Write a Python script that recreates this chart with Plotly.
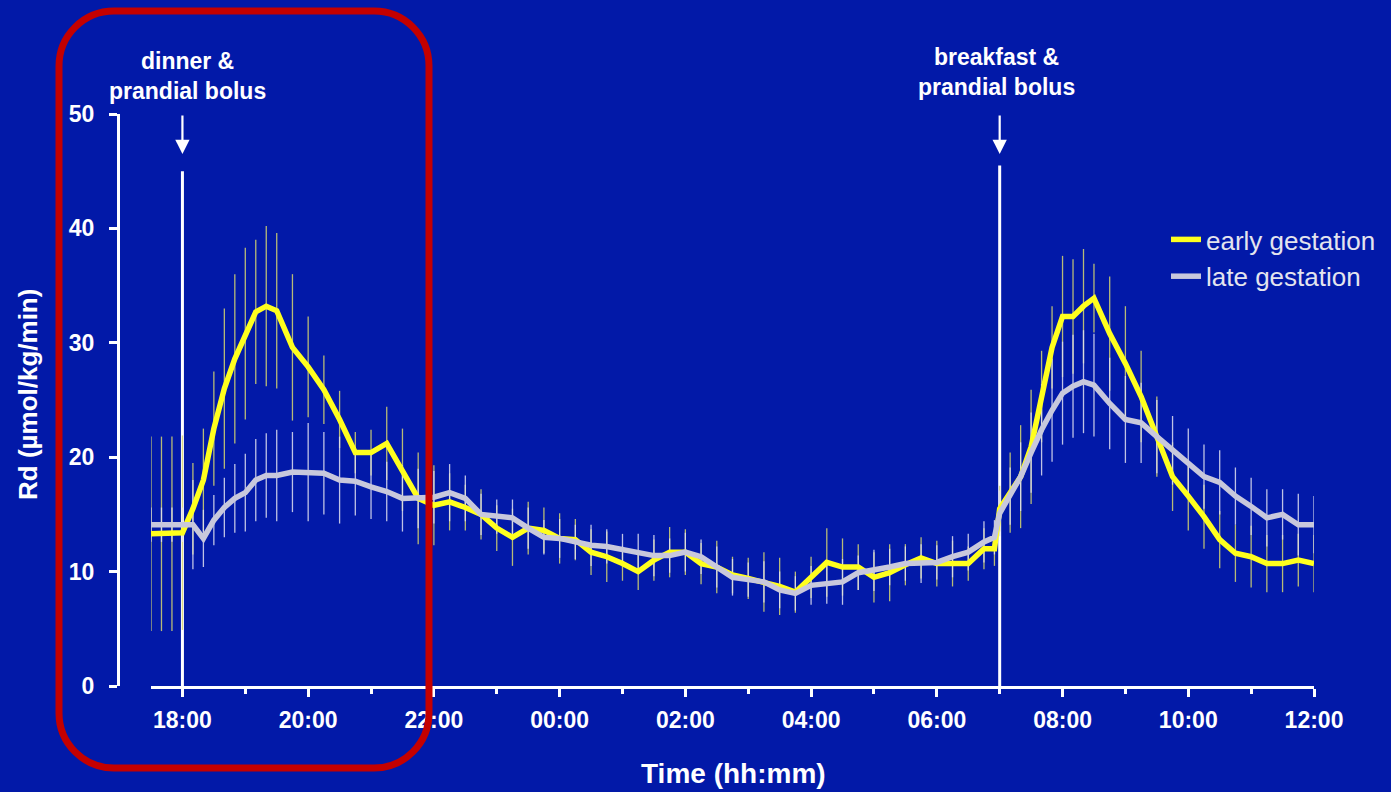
import plotly.graph_objects as go

# ---------------- data ----------------
times = [
    "17:30", "17:40", "17:50", "18:00",
    "18:10", "18:20", "18:30", "18:40", "18:50", "19:00", "19:10", "19:20", "19:30",
    "19:45", "20:00", "20:15", "20:30", "20:45", "21:00", "21:15", "21:30", "21:45",
    "22:00", "22:15", "22:30", "22:45", "23:00", "23:15", "23:30", "23:45",
    "00:00", "00:15", "00:30", "00:45", "01:00", "01:15", "01:30", "01:45",
    "02:00", "02:15", "02:30", "02:45", "03:00", "03:15", "03:30", "03:45",
    "04:00", "04:15", "04:30", "04:45", "05:00", "05:15", "05:30", "05:45",
    "06:00", "06:15", "06:30", "06:45",
    "06:55", "07:00",
    "07:10", "07:20", "07:30", "07:40", "07:50", "08:00", "08:10", "08:20", "08:30",
    "08:45", "09:00", "09:15", "09:30", "09:45", "10:00", "10:15", "10:30", "10:45",
    "11:00", "11:15", "11:30", "11:45", "12:00",
]

early_gestation = [
    13.3, 13.3, 13.3, 13.4,
    15.5, 18.0, 22.5, 26.0, 28.6, 30.8, 32.7, 33.2, 32.8,
    29.6, 27.9, 25.9, 23.3, 20.4, 20.4, 21.2, 18.9, 16.4,
    15.8, 16.1, 15.6, 15.0, 13.8, 13.0, 13.8, 13.6,
    12.9, 12.8, 11.7, 11.3, 10.7, 10.0, 11.0, 11.7,
    11.7, 10.7, 10.4, 9.7, 9.4, 9.1, 8.7, 8.2,
    9.5, 10.8, 10.4, 10.4, 9.5, 9.9, 10.6, 11.2,
    10.7, 10.7, 10.7, 12.0,
    12.0, 15.5,
    16.9, 18.3, 20.9, 25.3, 29.6, 32.3, 32.3, 33.2, 33.9,
    30.8, 28.2, 25.3, 21.8, 18.3, 16.6, 14.8, 12.8, 11.6,
    11.3, 10.7, 10.7, 11.0, 10.7,
]

early_sd = [
    8.5, 8.5, 8.5, 8.5,
    4.0, 4.5, 5.0, 7.0, 7.4, 7.5, 6.3, 7.0, 6.8,
    6.4, 4.4, 3.0, 2.5, 1.8, 2.0, 3.2, 3.6, 4.0,
    3.5, 2.5, 2.0, 2.2, 2.0, 2.5, 2.3, 2.0,
    2.2, 1.8, 2.0, 2.2, 1.5, 1.6, 1.8, 2.2,
    2.0, 1.8, 2.3, 1.6, 1.8, 2.6, 2.5, 1.8,
    1.8, 3.0, 2.5, 2.0, 2.2, 2.5, 1.8, 1.8,
    2.0, 2.0, 1.5, 1.8,
    1.5, 2.0,
    3.5, 4.5, 5.0, 4.0, 3.6, 5.3, 5.0, 5.0, 3.0,
    5.0, 5.0, 4.0, 3.5, 3.0, 3.0, 2.8, 2.5, 2.5,
    2.7, 2.5, 2.5, 2.3, 2.5,
]

late_gestation = [
    14.1, 14.1, 14.1, 14.1,
    14.1, 12.9, 14.5, 15.6, 16.4, 16.9, 18.0, 18.4, 18.4,
    18.7, 18.7, 18.6, 18.0, 17.9, 17.4, 17.0, 16.4, 16.4,
    16.5, 16.9, 16.4, 15.0, 14.8, 14.7, 13.8, 13.0,
    12.9, 12.6, 12.3, 12.2, 11.9, 11.7, 11.4, 11.4,
    11.7, 11.3, 10.4, 9.5, 9.3, 9.1, 8.4, 8.1,
    8.8, 9.0, 9.1, 9.9, 10.1, 10.4, 10.7, 10.7,
    10.8, 11.3, 11.7, 12.6,
    13.0, 15.1,
    16.6, 18.3, 20.4, 22.4, 24.1, 25.6, 26.2, 26.6, 26.3,
    24.7, 23.3, 23.0, 21.8, 20.6, 19.5, 18.3, 17.8, 16.6,
    15.7, 14.7, 15.0, 14.1, 14.1,
]

late_sd = [
    1.5, 1.5, 1.5, 1.5,
    3.9, 2.5, 2.2, 2.6, 3.0, 3.4, 3.6, 3.7, 4.0,
    3.5, 4.3, 3.6, 3.8, 3.0, 2.8, 2.6, 2.9, 2.6,
    2.3, 2.5, 2.0, 1.8, 1.5, 1.6, 1.8, 1.5,
    1.7, 1.5, 1.8, 1.5, 1.4, 1.6, 1.8, 1.5,
    1.7, 1.5, 1.8, 1.6, 1.5, 1.8, 1.6, 1.5,
    1.7, 1.8, 2.0, 1.5, 1.8, 1.6, 1.5, 1.7,
    1.5, 1.8, 1.6, 1.8,
    1.5, 2.0,
    2.5, 3.0, 3.5, 4.0, 4.5, 4.5, 4.5, 4.5, 4.5,
    4.0, 3.8, 3.5, 3.2, 3.0, 3.0, 2.8, 2.8, 2.5,
    2.5, 2.5, 2.2, 2.7, 2.5,
]

tick_labels = ["18:00", "20:00", "22:00", "00:00", "02:00", "04:00",
               "06:00", "08:00", "10:00", "12:00"]
minor_tick_labels = ["19:00", "21:00", "23:00", "01:00", "03:00", "05:00",
                     "07:00", "09:00", "11:00"]
x_start, x_end = "17:30", "12:00"
y_ticks = [0, 10, 20, 30, 40, 50]

event_times = ["18:00", "07:00"]
event_labels = ["dinner &<br>prandial bolus", "breakfast &<br>prandial bolus"]
event_line_top = [45.0, 45.5]

series_names = ["early gestation", "late gestation"]


def to_hours(t):
    h, m = (int(p) for p in t.split(":"))
    v = h + m / 60.0
    if h < 17:
        v += 24.0
    return v


xs = [to_hours(t) for t in times]

# ---------------- style ----------------
BG = "#0219a8"
YELLOW = "#ffff1e"
GRAY = "#c8c8dc"
WHITE = "#ffffff"
FONT = "Liberation Sans, Arial, sans-serif"

W, H = 1391, 792
ML, MR, MT, MB = 118, 77, 114, 106
PW = W - ML - MR
PH = H - MT - MB


def px(xp):
    return (xp - ML) / PW


def py(yp):
    return (H - MB - yp) / PH


def rounded_rect_path(x0, y0, x1, y1, r):
    k = 0.5523 * r
    P = lambda x, y: f"{px(x):.5f},{py(y):.5f}"
    return (
        f"M{P(x0 + r, y0)} L{P(x1 - r, y0)} "
        f"C{P(x1 - r + k, y0)} {P(x1, y0 + r - k)} {P(x1, y0 + r)} "
        f"L{P(x1, y1 - r)} "
        f"C{P(x1, y1 - r + k)} {P(x1 - r + k, y1)} {P(x1 - r, y1)} "
        f"L{P(x0 + r, y1)} "
        f"C{P(x0 + r - k, y1)} {P(x0, y1 - r + k)} {P(x0, y1 - r)} "
        f"L{P(x0, y0 + r)} "
        f"C{P(x0, y0 + r - k)} {P(x0 + r - k, y0)} {P(x0 + r, y0)} Z"
    )


fig = go.Figure()

# error bars (drawn underneath the lines)
fig.add_trace(go.Scatter(
    x=xs, y=early_gestation, mode="markers",
    marker=dict(size=1, color="rgba(0,0,0,0)"),
    error_y=dict(type="data", array=early_sd, color="rgba(215,215,110,0.85)",
                 thickness=1.3, width=0),
    showlegend=False, hoverinfo="skip"))
fig.add_trace(go.Scatter(
    x=xs, y=late_gestation, mode="markers",
    marker=dict(size=1, color="rgba(0,0,0,0)"),
    error_y=dict(type="data", array=late_sd, color="rgba(225,225,240,0.85)",
                 thickness=1.3, width=0),
    showlegend=False, hoverinfo="skip"))

fig.add_trace(go.Scatter(
    x=xs, y=early_gestation, mode="lines", name=series_names[0],
    line=dict(color=YELLOW, width=5.5)))
fig.add_trace(go.Scatter(
    x=xs, y=late_gestation, mode="lines", name=series_names[1],
    line=dict(color=GRAY, width=5.5)))

shapes = []
annotations = []
for t, lab, top, shift, ty in zip(event_times, event_labels, event_line_top,
                                  [5, -3], [76, 72]):
    xv = to_hours(t)
    shapes.append(dict(type="line", xref="x", yref="y", x0=xv, x1=xv, y0=0, y1=top,
                       line=dict(color=WHITE, width=3), layer="below"))
    annotations.append(dict(x=xv, y=46.5, xref="x", yref="y", text="",
                            showarrow=True, ax=0, ay=-40, arrowhead=2,
                            arrowsize=1.3, arrowwidth=2.2, arrowcolor=WHITE,
                            standoff=0))
    annotations.append(dict(x=xv, y=py(ty), xref="x", yref="paper", text=lab,
                            showarrow=False, xshift=shift, yanchor="middle",
                            font=dict(family=FONT, size=23, color=WHITE, weight="bold")))

# red rounded frame
shapes.append(dict(type="path", xref="paper", yref="paper",
                   path=rounded_rect_path(59, 11, 429, 768, 55),
                   line=dict(color="#c40000", width=7), layer="above"))

# axis titles
annotations.append(dict(x=px(733), y=py(773), xref="paper", yref="paper",
                        text="Time (hh:mm)", showarrow=False, yanchor="middle",
                        font=dict(family=FONT, size=28, color=WHITE, weight="bold")))
annotations.append(dict(x=px(28), y=py(395), xref="paper", yref="paper",
                        text="Rd (µmol/kg/min)", showarrow=False, textangle=-90,
                        xanchor="center", yanchor="middle",
                        font=dict(family=FONT, size=26, color=WHITE, weight="bold")))

fig.update_layout(
    width=W, height=H,
    margin=dict(l=ML, r=MR, t=MT, b=MB, autoexpand=False),
    paper_bgcolor=BG, plot_bgcolor=BG,
    shapes=shapes, annotations=annotations,
    showlegend=True,
    legend=dict(x=px(1166), y=py(216), xanchor="left", yanchor="top",
                bgcolor="rgba(0,0,0,0)", borderwidth=0,
                font=dict(family=FONT, size=26, color="#e4e4ee"),
                tracegroupgap=0, itemwidth=30),
    xaxis=dict(
        domain=[px(151), 1], range=[to_hours(x_start), to_hours(x_end)],
        showgrid=False, zeroline=False,
        showline=True, linecolor=WHITE, linewidth=3,
        ticks="outside", tickcolor=WHITE, tickwidth=3, ticklen=8,
        tickvals=[to_hours(t) for t in tick_labels], ticktext=tick_labels,
        ticklabelstandoff=3,
        minor=dict(tickvals=[to_hours(t) for t in minor_tick_labels],
                   ticks="outside", ticklen=5, tickwidth=3, tickcolor=WHITE),
        tickfont=dict(family=FONT, size=23, color=WHITE, weight="bold"),
        fixedrange=True,
    ),
    yaxis=dict(
        anchor="free", position=0, range=[0, 50],
        showgrid=False, zeroline=False,
        showline=True, linecolor=WHITE, linewidth=3,
        ticks="outside", tickcolor=WHITE, tickwidth=3, ticklen=8,
        tickvals=y_ticks, ticklabelstandoff=10,
        tickfont=dict(family=FONT, size=23, color=WHITE, weight="bold"),
        fixedrange=True,
    ),
)

fig.write_html(
    "out.html",
    config={"displayModeBar": False},
    post_script="document.body.style.margin='0px';document.body.style.overflow='hidden';",
)
